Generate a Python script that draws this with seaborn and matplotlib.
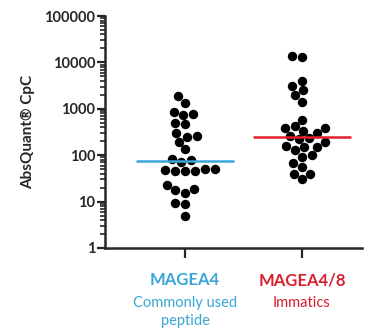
import numpy as np
import pandas as pd
import matplotlib
matplotlib.use("Agg")
import matplotlib.pyplot as plt
import seaborn as sns

# values (AbsQuant CpC, log scale)
magea4 = [1915, 1353, 784, 735, 853, 502, 463, 305, 259, 243, 195, 136,
          79, 71, 82, 50, 46, 46, 46, 48, 50, 23, 15.6, 18.4, 17.8, 9.2, 8.9, 4.9]
magea48 = [13740, 13270, 4034, 3100, 2541, 1983, 1422, 574, 391, 426, 259, 297,
           337, 195, 220, 391, 231, 158, 148, 129, 148, 93, 101, 57, 69, 30, 39, 39]

groups = ["MAGEA4", "MAGEA4/8"]
subtitles = ["Commonly used\npeptide", "Immatics"]
group_colors = ["#3aa6d8", "#d7202e"]
line_colors = ["#3aa8d8", "#e0202a"]
yticks = [1, 10, 100, 1000, 10000, 100000]

df = pd.DataFrame({
    "group": [groups[0]] * len(magea4) + [groups[1]] * len(magea48),
    "value": magea4 + magea48,
})

sns.set_style("ticks")
plt.rcParams["font.family"] = ["Lato", "DejaVu Sans"]

fig = plt.figure(figsize=(3.72, 3.34), dpi=100)
ax = fig.add_axes([0.282, 0.2575, 0.69, 0.6945])

sns.swarmplot(data=df, x="group", y="value", order=groups, color="black",
              size=6.8, log_scale=(False, True), ax=ax)

# median lines
for i, g in enumerate(groups):
    med = np.median(df.loc[df["group"] == g, "value"])
    ax.hlines(med, i - 0.42, i + 0.42, color=line_colors[i], lw=1.8, zorder=5)

ax.set_ylim(1, 100000)
ax.set_xlim(-0.685, 1.51)
ax.set_yticks(yticks)
ax.set_yticklabels([str(t) for t in yticks], fontweight="bold", fontsize=10.5)
ax.set_xticks([0, 1])
ax.set_xticklabels(["", ""])
ax.set_xlabel("")
ax.set_ylabel("AbsQuant® CpC", fontweight="bold", fontsize=11)
ax.yaxis.set_label_coords(-0.272, 0.5)

for sp in ["top", "right"]:
    ax.spines[sp].set_visible(False)
for sp in ["left", "bottom"]:
    ax.spines[sp].set_linewidth(1.8)
ax.tick_params(axis="both", which="major", length=6, width=1.6, pad=1)
ax.tick_params(axis="y", which="minor", length=3.5, width=1.2)
ax.tick_params(axis="x", which="major", length=7, pad=2)

trans = ax.get_xaxis_transform()
for i, g in enumerate(groups):
    ax.text(i, -0.14, g, transform=trans, ha="center", va="center",
            color=group_colors[i], fontweight="bold", fontsize=12)
    ax.text(i, -0.205, subtitles[i], transform=trans, ha="center", va="top",
            color=group_colors[i], fontsize=10.5, linespacing=1.45)

fig.savefig("out.png", dpi=100)
